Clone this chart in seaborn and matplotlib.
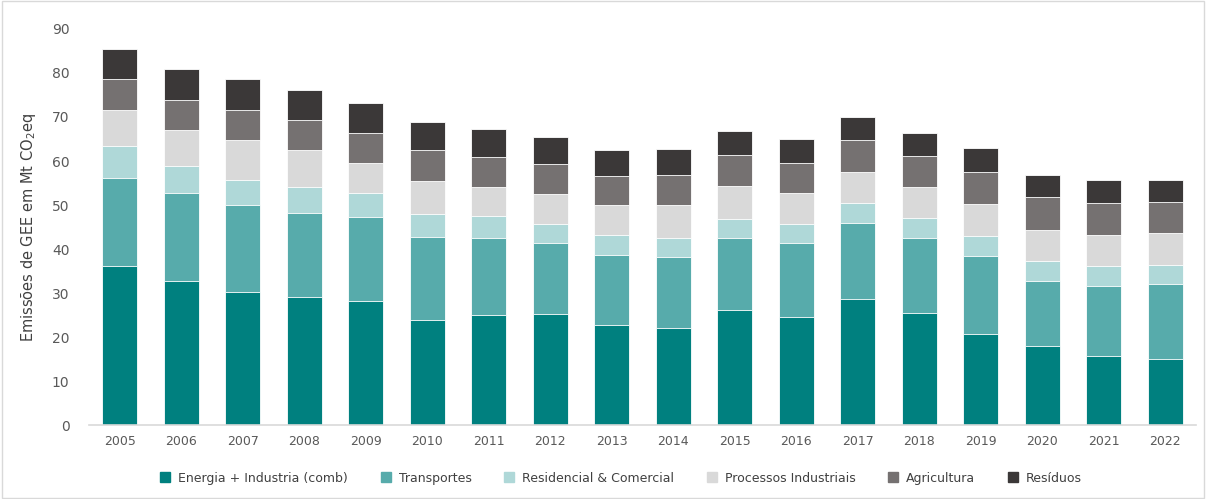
import numpy as np
import pandas as pd
import matplotlib
matplotlib.use("Agg")
import matplotlib.pyplot as plt
import seaborn as sns
from matplotlib.patches import Rectangle
from matplotlib.lines import Line2D

years = [str(y) for y in range(2005, 2023)]
energia      = [36.1, 32.8, 30.3, 29.1, 28.1, 23.8, 25.0, 25.2, 22.8, 22.0, 26.2, 24.6, 28.7, 25.4, 20.7, 17.9, 15.8, 15.0]
transportes  = [20.0, 20.0, 19.6, 19.2, 19.2, 19.0, 17.6, 16.2, 15.9, 16.3, 16.4, 16.8, 17.2, 17.2, 17.8, 14.9, 15.8, 17.0]
residencial  = [7.2, 6.0, 5.8, 5.7, 5.5, 5.2, 4.8, 4.4, 4.4, 4.3, 4.3, 4.4, 4.5, 4.5, 4.5, 4.6, 4.6, 4.3]
processos    = [8.3, 8.3, 9.0, 8.5, 6.8, 7.4, 6.7, 6.8, 6.8, 7.4, 7.4, 6.9, 7.2, 7.0, 7.2, 6.9, 7.0, 7.3]
agricultura  = [7.0, 6.8, 7.0, 6.9, 6.8, 7.0, 6.9, 6.8, 6.8, 6.8, 7.1, 6.9, 7.1, 7.1, 7.2, 7.5, 7.3, 7.0]
residuos     = [6.9, 7.0, 6.9, 6.8, 6.7, 6.4, 6.3, 6.0, 5.9, 5.9, 5.4, 5.5, 5.3, 5.2, 5.6, 5.0, 5.2, 5.1]

series_names = ["Energia + Industria (comb)", "Transportes", "Residencial & Comercial",
                "Processos Industriais", "Agricultura", "Resíduos"]
colors = ["#00807F", "#57ABAB", "#AFD8D8", "#D9D9D9", "#757171", "#3B3838"]
series = [energia, transportes, residencial, processos, agricultura, residuos]

sns.set_theme(style="white")
plt.rcParams['font.family'] = ['DejaVu Sans']

fig = plt.figure(figsize=(12.06, 4.99), dpi=100)
ax = fig.add_axes([0.0738, 0.148, 0.918, 0.794])

cum = np.cumsum(np.array(series), axis=0)
for i in range(len(series) - 1, -1, -1):
    df = pd.DataFrame({"year": years, "value": cum[i]})
    sns.barplot(data=df, x="year", y="value", color=colors[i], width=0.57,
                edgecolor="white", linewidth=0.6, saturation=1, ax=ax)

ax.set_ylim(0, 90)
ax.set_yticks(range(0, 91, 10))
ax.set_xlim(-0.5, len(years) - 0.5)
ax.set_xlabel("")
ax.set_ylabel("Emissões de GEE em Mt CO$_2$eq", fontsize=10.5, color="#404040", labelpad=10)
ax.tick_params(axis="y", colors="#595959", labelsize=10, length=0, pad=14)
ax.tick_params(axis="x", colors="#595959", labelsize=9, length=0, pad=7)
for s in ["top", "right", "left"]:
    ax.spines[s].set_visible(False)
ax.spines["bottom"].set_color("#D9D9D9")
ax.spines["bottom"].set_linewidth(1.2)
ax.grid(False)

handles = [Line2D([0], [0], marker="s", linestyle="", markersize=7,
                  markerfacecolor=c, markeredgecolor=c) for c in colors]
fig.legend(handles, series_names, loc="center", bbox_to_anchor=(0.512, 0.042),
           ncol=6, frameon=False, fontsize=9, handletextpad=0.05, columnspacing=2.0,
           labelcolor="#404040")

fig.patches.append(Rectangle((0.002, 0.002), 0.996, 0.996, transform=fig.transFigure,
                             fill=False, edgecolor="#D9D9D9", linewidth=1))

fig.savefig("out.png", dpi=100)
